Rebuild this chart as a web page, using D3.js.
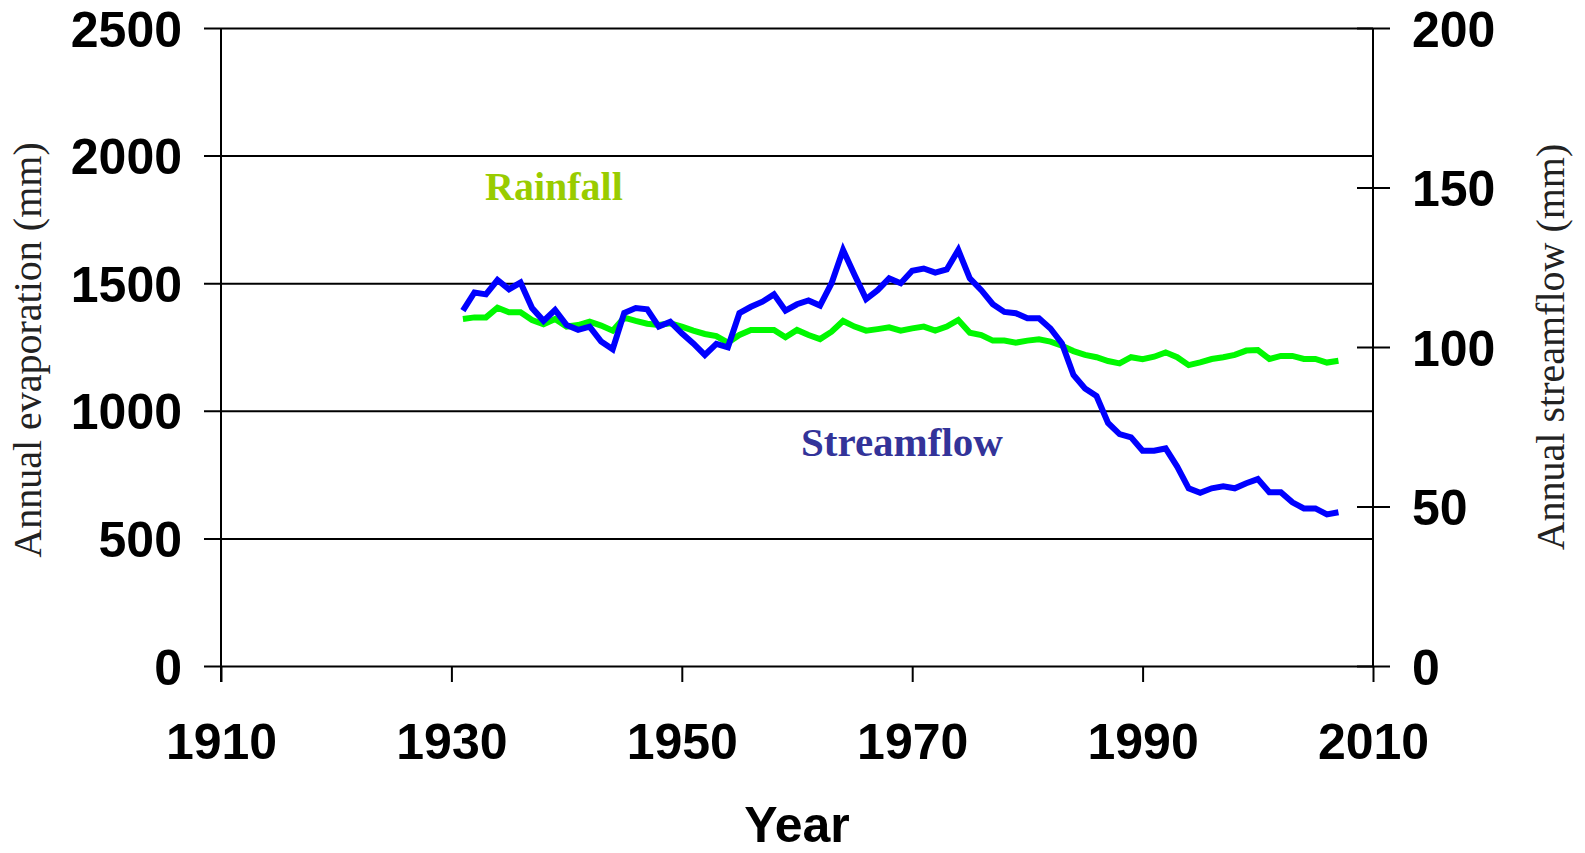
<!DOCTYPE html>
<html>
<head>
<meta charset="utf-8">
<script src="https://cdn.jsdelivr.net/npm/d3@7.9.0/dist/d3.min.js"></script>
<style>
  body { margin: 0; background: #fff; }
  svg { display: block; }
</style>
</head>
<body>
<svg id="chart" width="1585" height="853"></svg>
<script>
// years 1931..2007
const years = d3.range(1931, 2008);

// rainfall (mm), read against left axis
const rainfall = [
  1360, 1366, 1366, 1404, 1386, 1386, 1356, 1339, 1360, 1330,
  1336, 1349, 1334, 1314, 1365, 1352, 1341, 1336, 1343, 1330,
  1314, 1301, 1293, 1267, 1297, 1317, 1317, 1317, 1288, 1317,
  1297, 1281, 1310, 1352, 1330, 1314, 1320, 1327, 1314, 1323,
  1330, 1314, 1330, 1356, 1306, 1297, 1275, 1275, 1267, 1275,
  1280, 1271, 1255, 1234, 1219, 1210, 1195, 1186, 1210, 1202,
  1212, 1229, 1210, 1179, 1190, 1203, 1210, 1219, 1236, 1238,
  1203, 1215, 1215, 1203, 1203, 1189, 1196
];

// streamflow (mm), read against right axis
const streamflow = [
  111.4, 117.1, 116.5, 121.0, 118.1, 120.2, 112.2, 108.2, 111.6, 106.9,
  105.4, 106.4, 101.7, 99.3, 110.7, 112.2, 111.8, 106.4, 107.9, 104.3,
  101.1, 97.5, 101.0, 99.9, 110.6, 112.6, 114.2, 116.5, 111.4, 113.4,
  114.6, 113.0, 120.0, 130.4, 122.6, 115.0, 117.8, 121.5, 120.0, 123.9,
  124.6, 123.3, 124.3, 130.4, 121.5, 117.8, 113.4, 111.0, 110.6, 109.0,
  109.0, 105.8, 101.1, 91.2, 87.0, 84.6, 76.2, 72.7, 71.7, 67.5,
  67.5, 68.2, 62.5, 55.7, 54.3, 55.7, 56.3, 55.7, 57.3, 58.6,
  54.5, 54.5, 51.3, 49.4, 49.4, 47.5, 48.2
];

const xTicks = [1910, 1930, 1950, 1970, 1990, 2010];
const leftTicks = [0, 500, 1000, 1500, 2000, 2500];
const rightTicks = [0, 50, 100, 150, 200];

const svg = d3.select('#chart');
const mLeft = 221, mRight = 1373, mTop = 28, mBottom = 666;
const plotW = mRight - mLeft;

const x = d3.scaleLinear().domain([1910, 2010]).range([mLeft, mRight]);
const yL = d3.scaleLinear().domain([0, 2500]).range([mBottom, mTop]);
const yR = d3.scaleLinear().domain([0, 200]).range([mBottom, mTop]);

const tickFont = 'bold 50px "Liberation Sans", Arial, sans-serif';
const serif = '"Liberation Serif", "Times New Roman", serif';

// left axis + horizontal gridlines
const gL = svg.append('g')
  .attr('transform', `translate(${mLeft},0)`)
  .call(d3.axisLeft(yL).tickValues(leftTicks).tickSize(-plotW).tickPadding(0).tickFormat(d3.format('d')));
gL.select('.domain').remove();
gL.selectAll('.tick line').attr('x1', -17).attr('stroke', '#000').attr('stroke-width', 2);
gL.selectAll('.tick text').attr('x', -39).attr('dy', '0.36em')
  .style('font', tickFont).attr('fill', '#000');
svg.append('line').attr('x1', mLeft).attr('x2', mLeft).attr('y1', mTop).attr('y2', mBottom + 16)
  .attr('stroke', '#000').attr('stroke-width', 2);

// right axis
const gR = svg.append('g')
  .attr('transform', `translate(${mRight},0)`)
  .call(d3.axisRight(yR).tickValues(rightTicks).tickSize(17).tickPadding(0));
gR.select('.domain').remove();
gR.selectAll('.tick line').attr('x1', -16).attr('stroke', '#000').attr('stroke-width', 2);
gR.selectAll('.tick text').attr('x', 39).attr('dy', '0.36em')
  .style('font', tickFont).attr('fill', '#000');
svg.append('line').attr('x1', mRight).attr('x2', mRight).attr('y1', mTop).attr('y2', mBottom)
  .attr('stroke', '#000').attr('stroke-width', 2);

// bottom axis
const gX = svg.append('g')
  .attr('transform', `translate(0,${mBottom})`)
  .call(d3.axisBottom(x).tickValues(xTicks).tickSize(16).tickPadding(0).tickFormat(d3.format('d')));
gX.select('.domain').remove();
gX.selectAll('.tick line').attr('stroke', '#000').attr('stroke-width', 2);
gX.selectAll('.tick text').attr('y', 93).attr('dy', 0)
  .style('font', tickFont).attr('fill', '#000');

// lines
const rainLine = d3.line().x((d, i) => x(years[i])).y(d => yL(d));
const flowLine = d3.line().x((d, i) => x(years[i])).y(d => yR(d));

svg.append('path').datum(rainfall)
  .attr('d', rainLine).attr('fill', 'none')
  .attr('stroke', '#00f800').attr('stroke-width', 6);
svg.append('path').datum(streamflow)
  .attr('d', flowLine).attr('fill', 'none')
  .attr('stroke', '#0000ff').attr('stroke-width', 6);

// series labels
svg.append('text').attr('x', 485).attr('y', 200).text('Rainfall')
  .style('font', `bold 40px ${serif}`).attr('fill', '#99cc00');
svg.append('text').attr('x', 801).attr('y', 456).text('Streamflow')
  .style('font', `bold 41px ${serif}`).attr('fill', '#333399');

// axis titles
svg.append('text').attr('x', 797).attr('y', 842).attr('text-anchor', 'middle').text('Year')
  .style('font', tickFont).attr('fill', '#000');
svg.append('text').attr('transform', 'translate(41,350) rotate(-90)')
  .attr('text-anchor', 'middle').text('Annual evaporation (mm)')
  .style('font', `40px ${serif}`).attr('fill', '#222');
svg.append('text').attr('transform', 'translate(1564,347) rotate(-90)')
  .attr('text-anchor', 'middle').text('Annual streamflow (mm)')
  .style('font', `40px ${serif}`).attr('fill', '#222');
</script>
</body>
</html>
